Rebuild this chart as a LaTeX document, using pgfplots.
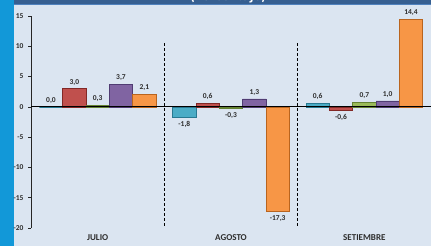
\documentclass[border=0pt]{standalone}
\usepackage{pgfplots}
\pgfplotsset{compat=1.18}
\usepackage{fontspec}
\setmainfont{Carlito}
\definecolor{stripblue}{RGB}{18,152,216}
\definecolor{bandblue}{RGB}{54,95,145}
\definecolor{bandline}{RGB}{79,129,189}
\definecolor{panel}{RGB}{219,229,241}
\definecolor{txt}{RGB}{45,45,45}
\definecolor{cyanf}{RGB}{75,172,198}\definecolor{cyand}{RGB}{40,120,145}
\definecolor{redf}{RGB}{192,80,77}\definecolor{redd}{RGB}{130,40,38}
\definecolor{greenf}{RGB}{155,187,89}\definecolor{greend}{RGB}{100,130,50}
\definecolor{purplef}{RGB}{128,100,162}\definecolor{purpled}{RGB}{80,60,115}
\definecolor{orangef}{RGB}{247,150,70}\definecolor{oranged}{RGB}{185,100,30}
\begin{document}
\begin{tikzpicture}[x=1pt,y=1pt]
\useasboundingbox (0,0) rectangle (431,-246);
\fill[panel] (0,0) rectangle (431,-246);
\fill[stripblue] (0,0) rectangle (14,-246);
\fill[bandblue] (14,0) rectangle (431,-4.5);
\draw[bandline, line width=0.6pt] (14,-4.6) -- (431,-4.6);
\begin{scope}
\clip (14,0) rectangle (431,-4.3);
\node[anchor=base, text=white, font=\bfseries\fontsize{15}{18}\selectfont, inner sep=0pt] at (228,-0.8) {(Porcentaje)};
\end{scope}
\begin{axis}[
  at={(31pt,-228pt)}, anchor=south west,
  scale only axis, width=400pt, height=212pt,
  xmin=-0.5, xmax=2.5, ymin=-20, ymax=15,
  axis lines=left,
  x axis line style={draw=none},
  y axis line style={-, line width=0.8pt, black!85},
  xtick={0,1,2}, xticklabels={JULIO,AGOSTO,SETIEMBRE},
  xtick style={draw=none},
  ytick={-20,-15,-10,-5,0,5,10,15},
  yticklabels={-20,-15,-10,-5,0,5,10,15},
  ytick style={line width=0.7pt, black!85},
  tick align=outside, major tick length=3pt,
  xticklabel style={font=\bfseries\fontsize{9}{10}\selectfont, text=txt, yshift=0pt},
  yticklabel style={font=\bfseries\fontsize{7.5}{9}\selectfont, text=txt, xshift=-1pt},
  ybar, bar width=0.175,
  nodes near coords,
  nodes near coords style={font=\bfseries\fontsize{7.5}{9}\selectfont, text=txt},
  /pgf/number format/.cd, fixed, fixed zerofill, precision=1, use comma, assume math mode=true,
]
\addplot[fill=cyanf, draw=cyand, line width=0.6pt, bar shift=-0.35] coordinates {(0,0.0) (1,-1.8) (2,0.6)};
\addplot[fill=redf, draw=redd, line width=0.6pt, bar shift=-0.175] coordinates {(0,3.0) (1,0.6) (2,-0.6)};
\addplot[fill=greenf, draw=greend, line width=0.6pt, bar shift=0] coordinates {(0,0.3) (1,-0.3) (2,0.7)};
\addplot[fill=purplef, draw=purpled, line width=0.6pt, bar shift=0.175] coordinates {(0,3.7) (1,1.3) (2,1.0)};
\addplot[fill=orangef, draw=oranged, line width=0.6pt, bar shift=0.35] coordinates {(0,2.1) (1,-17.3) (2,14.4)};
\draw[black, line width=0.8pt] (axis cs:-0.5,0) -- (axis cs:2.5,0);
\draw[black, line width=0.9pt, dash pattern=on 3pt off 2pt] (axis cs:0.5,10.5) -- (axis cs:0.5,-20);
\draw[black, line width=0.9pt, dash pattern=on 3pt off 2pt] (axis cs:1.5,10.5) -- (axis cs:1.5,-20);
\end{axis}
\end{tikzpicture}
\end{document}
